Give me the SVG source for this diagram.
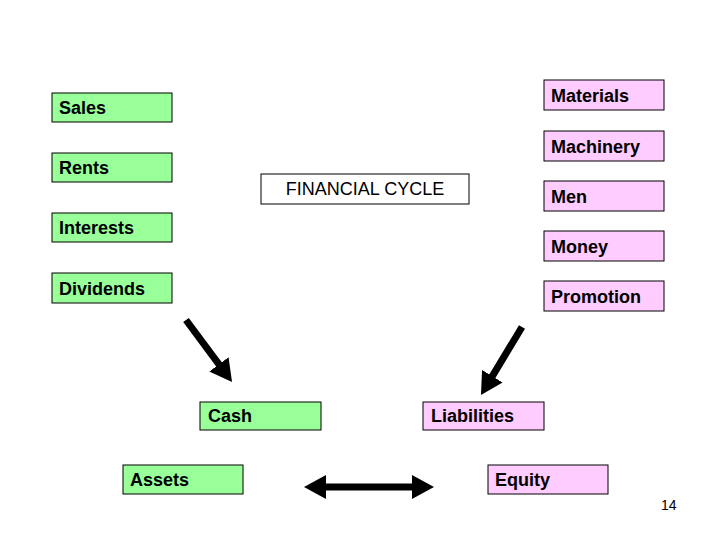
<svg xmlns="http://www.w3.org/2000/svg" width="720" height="540" viewBox="0 0 720 540">
<style>
.g{fill:#99FF99;stroke:#000;stroke-width:1}
.p{fill:#FFCCFF;stroke:#000;stroke-width:1}
.w{fill:#fff;stroke:#000;stroke-width:1}
.t{font-family:"Liberation Sans",Arial,sans-serif;font-size:18px;font-weight:bold;fill:#000}
.r{font-family:"Liberation Sans",Arial,sans-serif;font-size:18px;fill:#000}
.c{stroke:#000;stroke-width:7;fill:none}
</style>
<defs>
<marker id="ah" markerUnits="userSpaceOnUse" markerWidth="22" markerHeight="24" refX="2" refY="12" orient="auto-start-reverse" viewBox="0 0 22 24">
<path d="M0,0 L22,12 L0,24 Z" fill="#000"/>
</marker>
</defs>
<rect width="720" height="540" fill="#fff"/>
<g id="sales"><rect class="g" x="52" y="93" width="120" height="29"/><text class="t" x="59" y="114">Sales</text></g>
<g id="rents"><rect class="g" x="52" y="153" width="120" height="29"/><text class="t" x="59" y="174">Rents</text></g>
<g id="interests"><rect class="g" x="52" y="213" width="120" height="29"/><text class="t" x="59" y="234">Interests</text></g>
<g id="dividends"><rect class="g" x="52" y="273" width="120" height="30"/><text class="t" x="59" y="295">Dividends</text></g>
<g id="materials"><rect class="p" x="544" y="80" width="120" height="30"/><text class="t" x="551" y="102">Materials</text></g>
<g id="machinery"><rect class="p" x="544" y="131" width="120" height="30"/><text class="t" x="551" y="153">Machinery</text></g>
<g id="men"><rect class="p" x="544" y="181" width="120" height="30"/><text class="t" x="551" y="203">Men</text></g>
<g id="money"><rect class="p" x="544" y="231" width="120" height="30"/><text class="t" x="551" y="253">Money</text></g>
<g id="promotion"><rect class="p" x="544" y="281" width="120" height="30"/><text class="t" x="551" y="303">Promotion</text></g>
<g id="financial-cycle"><rect class="w" x="261" y="174" width="208" height="30"/><text class="r" x="365" y="195" text-anchor="middle">FINANCIAL CYCLE</text></g>
<g id="cash"><rect class="g" x="200" y="402" width="121" height="28"/><text class="t" x="208" y="422">Cash</text></g>
<g id="liabilities"><rect class="p" x="423" y="402" width="121" height="28"/><text class="t" x="431" y="422">Liabilities</text></g>
<g id="assets"><rect class="g" x="123" y="465" width="120" height="29"/><text class="t" x="130" y="486">Assets</text></g>
<g id="equity"><rect class="p" x="488" y="465" width="120" height="29"/><text class="t" x="495" y="486">Equity</text></g>
<g id="connectors">
<line class="c" x1="186" y1="320" x2="220.1" y2="365.9" marker-end="url(#ah)"/>
<line class="c" x1="522" y1="327" x2="491.3" y2="377.9" marker-end="url(#ah)"/>
<line class="c" x1="324" y1="487" x2="414" y2="487" stroke-width="6" marker-start="url(#ah)" marker-end="url(#ah)"/>
</g>
<text x="661" y="510" font-family="'Liberation Sans',Arial,sans-serif" font-size="14" fill="#000">14</text>
</svg>
